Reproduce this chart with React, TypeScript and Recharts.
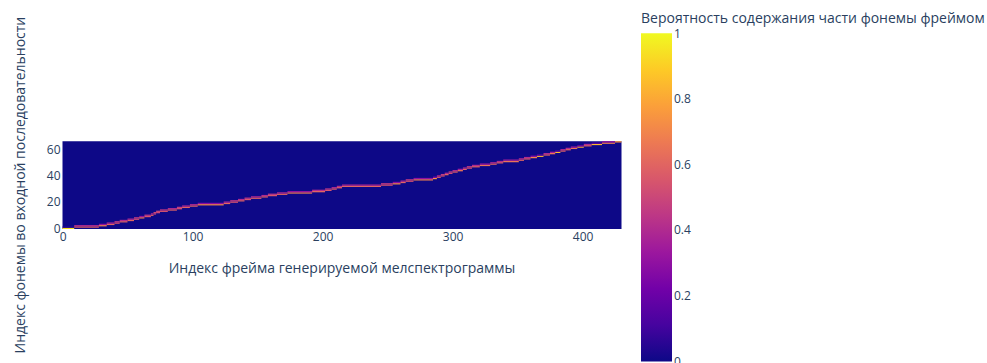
import React from 'react';
import {
  ComposedChart,
  XAxis,
  YAxis,
  Scatter,
  Bar,
  ReferenceArea,
  Label,
} from 'recharts';

// ---- data ----
const frameCount = 430; // frames 0..429
const phonemeCount = 67; // phonemes 0..66

// first frame in which each phoneme holds the attention peak
const phonemeStartFrame = [
  0, 9, 28, 34, 40, 44, 50, 55, 59, 63,
  68, 70, 72, 75, 81, 88, 92, 98, 104, 124,
  129, 135, 140, 145, 153, 158, 165, 173, 192, 202,
  207, 211, 215, 245, 254, 260, 264, 270, 285, 288,
  291, 294, 297, 300, 304, 308, 311, 315, 321, 329,
  334, 339, 351, 355, 360, 365, 370, 375, 379, 383,
  387, 391, 396, 401, 407, 415, 425,
];

// peak probability of each phoneme over its frames
const peakProb = [
  0.95, 0.6, 0.7, 0.6, 0.55, 0.6, 0.6, 0.55, 0.7, 0.55,
  0.6, 0.5, 0.5, 0.55, 0.6, 0.55, 0.6, 0.6, 0.72, 0.6,
  0.55, 0.6, 0.55, 0.6, 0.6, 0.55, 0.6, 0.7, 0.6, 0.55,
  0.6, 0.6, 0.6, 0.55, 0.72, 0.6, 0.55, 0.7, 0.75, 0.6,
  0.55, 0.6, 0.55, 0.6, 0.65, 0.6, 0.55, 0.6, 0.65, 0.6,
  0.6, 0.65, 0.6, 0.6, 0.7, 0.85, 0.6, 0.65, 0.85, 0.6,
  0.6, 0.65, 0.8, 0.6, 0.85, 0.7, 0.75,
];

const xTicks = [0, 100, 200, 300, 400];
const yTicks = [0, 20, 40, 60];
const colorTicks = [0, 0.2, 0.4, 0.6, 0.8, 1];

const xTitle = 'Индекс фрейма генерируемой мелспектрограммы';
const yTitle = 'Индекс фонемы во входной последовательности';
const colorTitle = 'Вероятность содержания части фонемы фреймом';

// Plotly "plasma" colorscale
const plasmaStops = [
  '#0d0887', '#46039f', '#7201a8', '#9c179e', '#bd3786',
  '#d8576b', '#ed7953', '#fb9f3a', '#fdca26', '#f0f921',
];

const FONT = '"Open Sans", verdana, arial, sans-serif';
const TEXT = '#2a3f5f';

function hexToRgb(h: string) {
  return [1, 3, 5].map((i) => parseInt(h.slice(i, i + 2), 16));
}
function plasma(v: number) {
  const t = Math.max(0, Math.min(1, v)) * (plasmaStops.length - 1);
  const i = Math.min(Math.floor(t), plasmaStops.length - 2);
  const f = t - i;
  const a = hexToRgb(plasmaStops[i]);
  const b = hexToRgb(plasmaStops[i + 1]);
  const c = a.map((x, k) => Math.round(x + (b[k] - x) * f));
  return `rgb(${c[0]},${c[1]},${c[2]})`;
}

type Cell = { x1: number; x2: number; row: number; v: number; xc: number };
const cells: Cell[] = [];
phonemeStartFrame.forEach((s, i) => {
  const e = i + 1 < phonemeStartFrame.length ? phonemeStartFrame[i + 1] - 1 : frameCount - 1;
  cells.push({ x1: s - 0.5, x2: e + 0.5, row: i, v: peakProb[i], xc: (s + e) / 2 });
  if (i + 1 < phonemeCount) {
    cells.push({ x1: s - 0.5, x2: e + 0.5, row: i + 1, v: 1 - peakProb[i], xc: (s + e) / 2 });
  }
});

const colorbarData = [{ name: 'cb', v: 1 }];

const tickStyle = { fill: TEXT, fontSize: 12, fontFamily: FONT };

export default function App() {
  return (
    <div style={{ position: 'absolute', left: 0, top: 0, width: 987, height: 363, background: '#fff' }}>
      <div style={{ position: 'absolute', left: 0, top: 0 }}>
        <ComposedChart
          width={640}
          height={363}
          data={cells}
          margin={{ top: 141.2, left: 22.5, right: 18.5, bottom: 104 }}
        >
          <XAxis
            type="number"
            dataKey="xc"
            domain={[-0.5, frameCount - 0.5]}
            ticks={xTicks}
            interval={0}
            allowDataOverflow
            axisLine={false}
            tickLine={false}
            tickSize={2}
            tickMargin={1}
            height={30}
            tick={tickStyle}
          >
            <Label
              content={(p: any) => {
                const vb = p.viewBox || {};
                return (
                  <text
                    x={vb.x + vb.width / 2}
                    y={vb.y + 38}
                    textAnchor="middle"
                    dominantBaseline="central"
                    fill={TEXT}
                    fontSize={14}
                    fontFamily={FONT}
                  >
                    {xTitle}
                  </text>
                );
              }}
            />
          </XAxis>
          <YAxis
            type="number"
            dataKey="row"
            domain={[-0.5, phonemeCount - 0.5]}
            ticks={yTicks}
            interval={0}
            allowDataOverflow
            axisLine={false}
            tickLine={false}
            tickSize={2}
            tickMargin={0}
            width={40}
            tick={tickStyle}
          >
            <Label
              content={(p: any) => {
                const vb = p.viewBox || {};
                const cx = vb.x - 2.5;
                const cy = vb.y + vb.height / 2;
                return (
                  <text
                    x={cx}
                    y={cy}
                    transform={`rotate(-90 ${cx} ${cy})`}
                    textAnchor="middle"
                    dominantBaseline="central"
                    fill={TEXT}
                    fontSize={14}
                    fontFamily={FONT}
                  >
                    {yTitle}
                  </text>
                );
              }}
            />
          </YAxis>
          <ReferenceArea
            x1={-0.5}
            x2={frameCount - 0.5}
            y1={-0.5}
            y2={phonemeCount - 0.5}
            fill={plasma(0)}
            fillOpacity={1}
            stroke="none"
          />
          {cells.map((c, i) => (
            <ReferenceArea
              key={i}
              x1={c.x1}
              x2={c.x2}
              y1={c.row - 0.5}
              y2={c.row + 0.5}
              fill={plasma(c.v)}
              fillOpacity={1}
              stroke="none"
              ifOverflow="visible"
            />
          ))}
          <Scatter dataKey="row" isAnimationActive={false} shape={() => <g />} />
        </ComposedChart>
      </div>
      <div style={{ position: 'absolute', left: 0, top: 0 }}>
        <ComposedChart
          width={987}
          height={363}
          data={colorbarData}
          margin={{ top: 33.3, left: 641, right: 275, bottom: 1.5 }}
          barCategoryGap={0}
          style={{ overflow: 'visible' }}
        >
          <defs>
            <linearGradient id="plasmaGrad" x1="0" y1="1" x2="0" y2="0">
              {plasmaStops.map((c, i) => (
                <stop key={i} offset={`${(i / (plasmaStops.length - 1)) * 100}%`} stopColor={c} />
              ))}
            </linearGradient>
          </defs>
          <XAxis dataKey="name" type="category" hide />
          <YAxis
            orientation="right"
            type="number"
            domain={[0, 1]}
            ticks={colorTicks}
            interval={0}
            axisLine={false}
            tickLine={false}
            tickSize={1}
            tickMargin={1}
            width={40}
            tick={tickStyle}
          />
          <Bar dataKey="v" fill="url(#plasmaGrad)" isAnimationActive={false} />
        </ComposedChart>
      </div>
      <div
        style={{
          position: 'absolute',
          left: 641,
          top: 8,
          fontFamily: FONT,
          fontSize: 14,
          color: TEXT,
          whiteSpace: 'nowrap',
          lineHeight: '20px',
        }}
      >
        {colorTitle}
      </div>
    </div>
  );
}
